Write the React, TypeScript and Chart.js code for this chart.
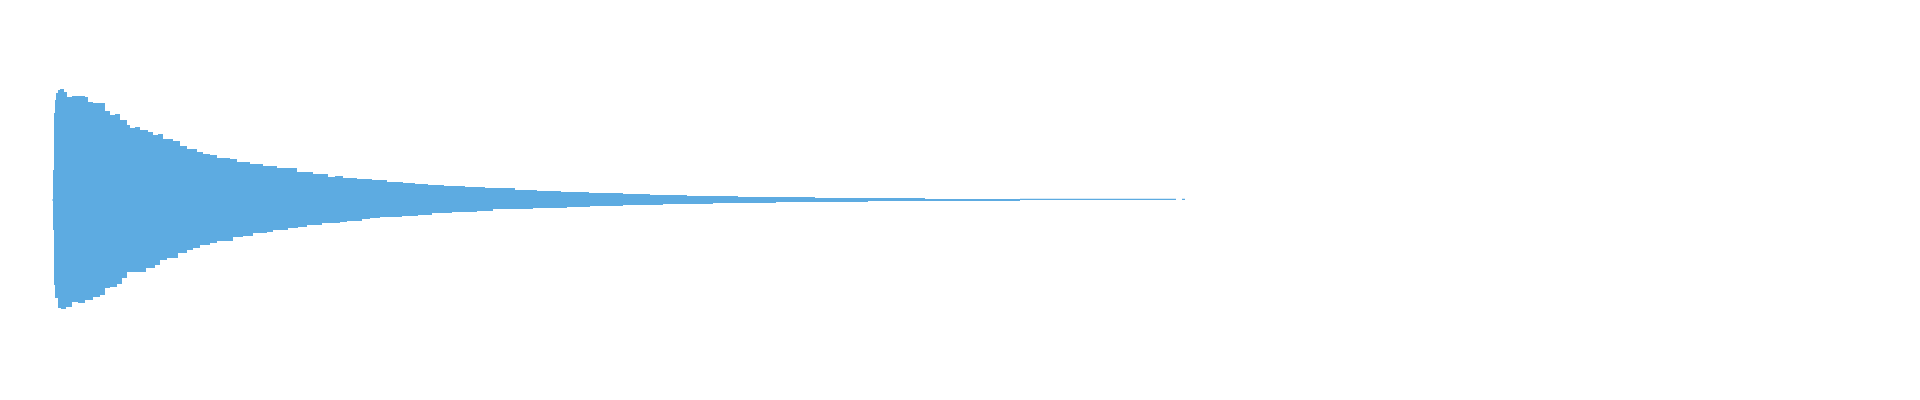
import React, { useEffect, useRef } from "react";
import { Chart, registerables } from "chart.js";

Chart.register(...registerables);

// time in ms, peak level of the decaying waveform (normalised amplitude)
const upperTimes = [
  44, 45, 46, 47, 48, 50, 52, 56, 59, 64, 77, 80, 85, 97, 102, 107, 112, 119,
  122, 127, 132, 140, 145, 150, 155, 165, 172, 179, 189, 195, 202, 209, 222,
  229, 242, 255, 269, 289, 305, 320, 327, 335, 349, 364, 379, 395, 407, 420,
  436, 457, 477, 507, 529, 553, 581, 615, 642, 679, 730, 807, 917, 1012, 1168,
  1174, 1177,
];
const upperLevels = [
  0.003, 0.15, 0.435, 0.5, 0.535, 0.55, 0.555, 0.54, 0.515, 0.52, 0.515, 0.49,
  0.485, 0.445, 0.425, 0.43, 0.4, 0.375, 0.36, 0.365, 0.35, 0.34, 0.325, 0.33,
  0.305, 0.295, 0.27, 0.255, 0.24, 0.23, 0.225, 0.21, 0.205, 0.19, 0.18, 0.17,
  0.16, 0.14, 0.13, 0.115, 0.12, 0.11, 0.105, 0.1, 0.09, 0.085, 0.08, 0.075,
  0.07, 0.065, 0.06, 0.05, 0.045, 0.04, 0.035, 0.03, 0.025, 0.02, 0.015, 0.01,
  0.005, 0.0065, 0, 0.0065, 0,
];

const lowerTimes = [
  44, 45, 46, 47, 50, 53, 58, 64, 70, 77, 85, 92, 97, 102, 109, 114, 119, 138,
  147, 152, 159, 170, 179, 185, 192, 202, 209, 225, 235, 245, 259, 265, 280,
  290, 299, 314, 332, 339, 354, 362, 372, 394, 410, 424, 444, 469, 485, 525,
  559, 582, 615, 655, 705, 768, 860, 1012,
];
const lowerLevels = [
  0.003, 0.15, 0.425, 0.49, 0.54, 0.545, 0.535, 0.51, 0.515, 0.5, 0.485, 0.475,
  0.44, 0.435, 0.42, 0.39, 0.36, 0.34, 0.325, 0.3, 0.29, 0.265, 0.25, 0.24,
  0.225, 0.215, 0.205, 0.185, 0.18, 0.165, 0.16, 0.15, 0.14, 0.135, 0.125,
  0.115, 0.11, 0.105, 0.095, 0.09, 0.085, 0.08, 0.075, 0.065, 0.06, 0.055,
  0.045, 0.04, 0.035, 0.03, 0.025, 0.02, 0.015, 0.01, 0.005, 0,
];

const waveColor = "#5dabe1";

const Waveform = () => {
  const canvasRef = useRef<HTMLCanvasElement | null>(null);
  const chartRef = useRef<Chart | null>(null);

  useEffect(() => {
    const ctx = canvasRef.current?.getContext("2d");
    if (!ctx) return;

    if (chartRef.current) {
      chartRef.current.destroy();
    }

    const envelope = {
      stepped: true,
      fill: "origin",
      borderWidth: 0,
      pointRadius: 0,
      backgroundColor: waveColor,
      borderColor: waveColor,
    };

    chartRef.current = new Chart(ctx, {
      type: "line",
      data: {
        datasets: [
          {
            ...envelope,
            label: "peak +",
            data: upperTimes.map((t, i) => ({ x: t, y: upperLevels[i] })),
          },
          {
            ...envelope,
            label: "peak -",
            data: lowerTimes.map((t, i) => ({ x: t, y: -lowerLevels[i] })),
          },
        ],
      },
      options: {
        animation: false,
        responsive: true,
        maintainAspectRatio: false,
        scales: {
          x: { type: "linear", min: 0, max: 1904, display: false },
          y: { min: -0.96, max: 0.96, display: false },
        },
        plugins: {
          legend: { display: false },
          tooltip: { enabled: false },
        },
      },
    } as any);

    return () => {
      if (chartRef.current) {
        chartRef.current.destroy();
        chartRef.current = null;
      }
    };
  }, []);

  return (
    <div style={{ width: "100%", height: "384px", position: "relative" }}>
      <canvas ref={canvasRef} />
    </div>
  );
};

export default function App() {
  return <Waveform />;
}
